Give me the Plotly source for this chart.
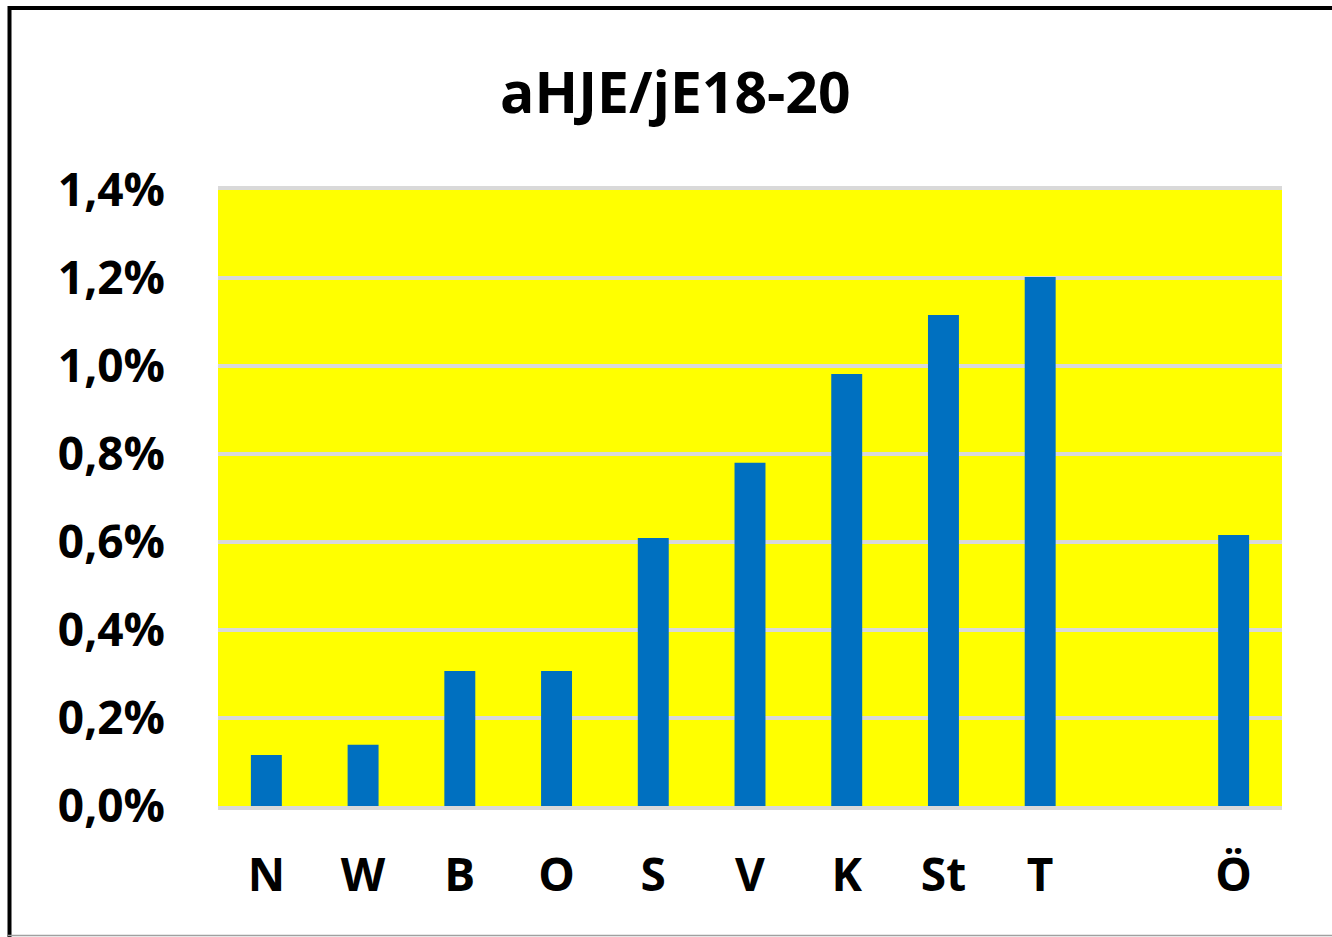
import plotly.graph_objects as go

# Kategorien (leere Lücke zwischen T und Ö)
categories = ["N", "W", "B", "O", "S", "V", "K", "St", "T", " ", "Ö"]
values = [0.00116, 0.00139, 0.00307, 0.00307, 0.00609, 0.00780, 0.00982, 0.01116, 0.01202, None, 0.00616]

title_text = "aHJE/jE18-20"

W, H = 1332, 937
L, R, T, B = 218, 50, 190, 131
pw, ph = W - L - R, H - T - B


def px_x(x):
    return (x - L) / pw


def px_y(y):
    return (H - B - y) / ph


fig = go.Figure(
    go.Bar(
        x=categories,
        y=values,
        marker_color="#0070c0",
        marker_line_width=0,
    )
)

fig.update_layout(
    width=W,
    height=H,
    margin=dict(l=L, r=R, t=T, b=B),
    paper_bgcolor="white",
    plot_bgcolor="#ffff00",
    separators=",.",
    bargap=0.68,
    showlegend=False,
    font=dict(family="Open Sans, sans-serif", color="#000000", size=46, weight="bold"),
    title=dict(
        text=title_text,
        x=0.507,
        xanchor="center",
        y=1 - 93 / H,
        yanchor="middle",
        font=dict(size=57, weight="bold", color="#000000"),
    ),
    xaxis=dict(
        type="category",
        categoryorder="array",
        categoryarray=categories,
        showgrid=False,
        showline=True,
        mirror=True,
        linecolor="#d9d9d9",
        linewidth=4,
        ticks="",
        ticklabelstandoff=26,
    ),
    yaxis=dict(
        range=[0, 0.014],
        dtick=0.002,
        tickformat=".1%",
        showgrid=True,
        gridcolor="#d9d9d9",
        gridwidth=4,
        zeroline=False,
        showline=False,
        ticks="",
        ticklabelstandoff=52,
    ),
    shapes=[
        dict(type="line", xref="paper", yref="paper",
             x0=px_x(9.5), x1=px_x(9.5), y0=px_y(6), y1=px_y(937),
             line=dict(color="black", width=4)),
        dict(type="line", xref="paper", yref="paper",
             x0=px_x(8), x1=px_x(1332), y0=px_y(8), y1=px_y(8),
             line=dict(color="black", width=4)),
        dict(type="line", xref="paper", yref="paper",
             x0=px_x(8), x1=px_x(1332), y0=px_y(935.5), y1=px_y(935.5),
             line=dict(color="#a0a0a0", width=1.5)),
    ],
)

fig.write_html(
    "out.html",
    config={"displayModeBar": False},
    post_script="document.body.style.margin='0';",
)
